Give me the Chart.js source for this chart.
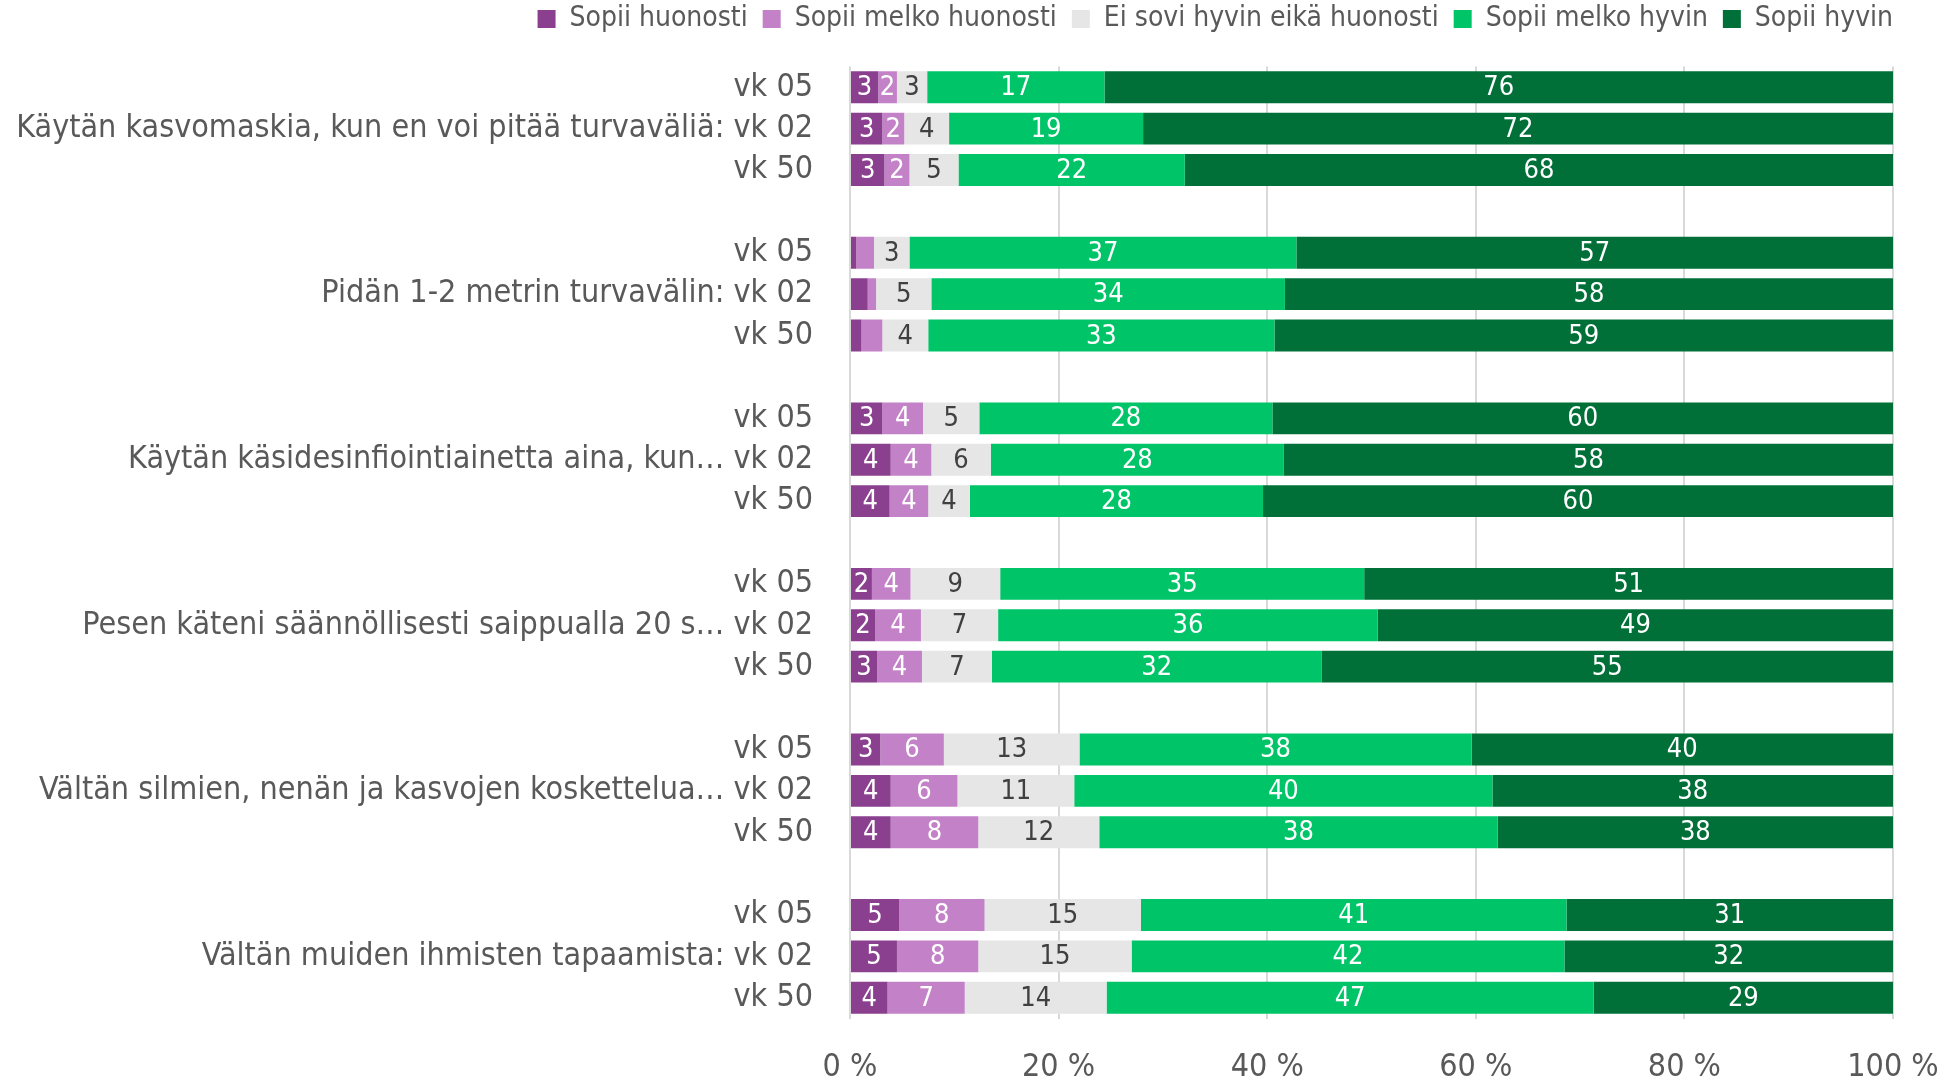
<!DOCTYPE html>
<html>
<head>
<meta charset="utf-8">
<script src="https://cdn.jsdelivr.net/npm/chart.js@4.4.1/dist/chart.umd.min.js"></script>
<style>
  html, body { margin: 0; padding: 0; background: #fff; }
  #wrap { width: 1946px; height: 1081px; }
</style>
</head>
<body>
<div id="wrap"><canvas id="chart" width="1946" height="1081"></canvas></div>
<script>
const groups = [
  "Käytän kasvomaskia, kun en voi pitää turvaväliä:",
  "Pidän 1-2 metrin turvavälin:",
  "Käytän käsidesinfiointiainetta aina, kun…",
  "Pesen käteni säännöllisesti saippualla 20 s…",
  "Vältän silmien, nenän ja kasvojen koskettelua…",
  "Vältän muiden ihmisten tapaamista:"
];
const weeks = ["vk 05", "vk 02", "vk 50"];
const seriesNames = ["Sopii huonosti", "Sopii melko huonosti", "Ei sovi hyvin eikä huonosti", "Sopii melko hyvin", "Sopii hyvin"];
const xTicks = [0, 20, 40, 60, 80, 100];

// rows top to bottom: group by group, vk 05 / vk 02 / vk 50
const sopiiHuonosti      = [2.7, 3.1, 3.3,  0.6, 1.7, 1.1,  3.1, 3.9, 3.8,  2.1, 2.4, 2.6,  2.9, 3.9, 3.9,  4.7, 4.5, 3.6];
const sopiiMelkoHuonosti = [1.8, 2.1, 2.4,  1.7, 0.8, 2.0,  3.9, 3.9, 3.7,  3.7, 4.4, 4.3,  6.1, 6.4, 8.4,  8.2, 7.8, 7.4];
const eiSoviEikaHuonosti = [2.9, 4.3, 4.7,  3.4, 5.3, 4.4,  5.4, 5.7, 4.0,  8.6, 7.4, 6.7,  13.0, 11.2, 11.6,  15.0, 14.7, 13.6];
const sopiiMelkoHyvin    = [17.0, 18.6, 21.7,  37.1, 33.9, 33.2,  28.1, 28.1, 28.1,  34.9, 36.4, 31.6,  37.6, 40.1, 38.2,  40.8, 41.5, 46.7];
const sopiiHyvin         = [75.6, 71.9, 67.9,  57.2, 58.3, 59.3,  59.5, 58.4, 60.4,  50.7, 49.4, 54.8,  40.4, 38.4, 37.9,  31.3, 31.5, 28.7];

// rows whose small segments carry no label in the original
const hiddenLabels = [[3, 4, 5], [3, 4, 5], [], [], []];

const colors = ["#8A3F8F", "#C382C8", "#E6E6E6", "#00C468", "#007038"];
const labelColors = ["#ffffff", "#ffffff", "#404040", "#ffffff", "#ffffff"];
const FONT = '"DejaVu Sans Condensed", "Open Sans", sans-serif';
const TEXT = "#595959";

// build category labels with an empty slot between groups
const labels = [];
const rowIndex = [];
groups.forEach((g, gi) => {
  weeks.forEach((w, wi) => {
    labels.push(wi === 1 ? g + " " + w : w);
    rowIndex.push(gi * 3 + wi);
  });
  if (gi < groups.length - 1) {
    labels.push("");
    rowIndex.push(null);
  }
});

const allSeries = [sopiiHuonosti, sopiiMelkoHuonosti, eiSoviEikaHuonosti, sopiiMelkoHyvin, sopiiHyvin];
const datasets = allSeries.map((arr, si) => ({
  label: seriesNames[si],
  data: rowIndex.map(r => (r === null ? null : arr[r])),
  backgroundColor: colors[si],
  borderWidth: 0,
  categoryPercentage: 1,
  barPercentage: 0.77
}));

const valueLabels = {
  id: "valueLabels",
  afterDatasetsDraw(chart) {
    const ctx = chart.ctx;
    ctx.save();
    ctx.font = "27px " + FONT;
    ctx.textAlign = "center";
    ctx.textBaseline = "middle";
    chart.data.datasets.forEach((ds, si) => {
      const meta = chart.getDatasetMeta(si);
      meta.data.forEach((bar, i) => {
        const r = rowIndex[i];
        if (r === null || ds.data[i] == null) return;
        if (hiddenLabels[si].includes(r)) return;
        const p = bar.getProps(["x", "y", "base"], true);
        ctx.fillStyle = labelColors[si];
        ctx.fillText(String(Math.round(ds.data[i])), (p.x + p.base) / 2, p.y + 1);
      });
    });
    ctx.restore();
  }
};

// fixed legend height so the plot starts where the original does,
// and legend text ending flush with the plot's right edge
const legendSpace = {
  id: "legendSpace",
  beforeInit(chart) {
    const fit = chart.legend.fit;
    chart.legend.fit = function () {
      fit.call(this);
      this.height = 76.5;
    };
  },
  afterLayout(chart) {
    chart.legend.left += 15;
    chart.legend.right += 15;
  }
};

new Chart(document.getElementById("chart").getContext("2d"), {
  type: "bar",
  data: { labels: labels, datasets: datasets },
  options: {
    indexAxis: "y",
    responsive: false,
    animation: false,
    layout: { padding: { top: -10, right: 53, left: 0, bottom: 0 } },
    scales: {
      x: {
        stacked: true,
        min: 0,
        max: 100,
        afterBuildTicks: s => { s.ticks = xTicks.map(v => ({ value: v })); },
        afterFit: s => {
          s.height = 62.5;
          s.paddingLeft = 0;
          s.paddingRight = 0;
        },
        grid: { color: "#D9D9D9", lineWidth: 2, drawTicks: false },
        border: { display: false },
        ticks: {
          color: TEXT,
          font: { family: FONT, size: 32 },
          padding: 29.5,
          callback: v => v + " %"
        }
      },
      y: {
        stacked: true,
        afterFit: s => { s.width = 850; },
        grid: { display: false, drawTicks: false },
        border: { display: false },
        ticks: {
          color: TEXT,
          font: { family: FONT, size: 32 },
          padding: 37,
          autoSkip: false
        }
      }
    },
    plugins: {
      legend: {
        position: "top",
        align: "end",
        labels: {
          color: TEXT,
          font: { family: FONT, size: 28 },
          boxWidth: 18,
          boxHeight: 18,
          padding: 15
        }
      },
      tooltip: { enabled: false }
    }
  },
  plugins: [valueLabels, legendSpace]
});
</script>
</body>
</html>
